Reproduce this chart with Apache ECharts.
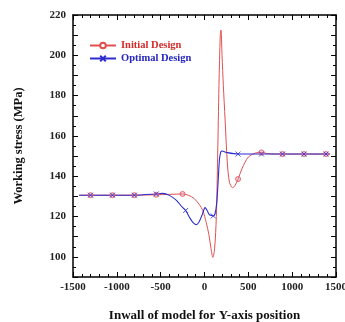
<!DOCTYPE html>
<html>
<head>
<meta charset="utf-8">
<script src="https://cdn.jsdelivr.net/npm/echarts@6.0.0/dist/echarts.min.js"></script>
<style>
  html, body { margin: 0; padding: 0; background: #fff; }
  #chart { width: 345px; height: 322px; }
</style>
</head>
<body>
<div id="chart"></div>
<script>
// values
const initialX = [-1430, -1300, -1050, -800, -550, -400, -250, -180, -120, -60, -20, 20, 50, 75, 95, 115, 135, 150, 165, 180, 188, 200, 215, 235, 260, 285, 320, 350, 383, 430, 500, 580, 650, 720, 800, 890, 1135, 1386, 1430];
const initialY = [130.6, 130.6, 130.6, 130.6, 130.8, 131, 131.2, 130.5, 129, 126, 123, 117, 111, 104, 99.7, 104, 120, 150, 185, 210, 212.5, 200, 185, 168, 147, 137, 134.3, 135.5, 138.6, 144, 149.5, 151.5, 151.8, 151.2, 151, 151, 151, 151, 151];
const optimalX = [-1430, -1300, -1050, -800, -550, -480, -400, -320, -250, -215, -170, -130, -90, -60, -30, -10, 6, 30, 55, 80, 100, 120, 140, 155, 170, 185, 200, 250, 383, 500, 650, 890, 1135, 1386, 1430];
const optimalY = [130.6, 130.6, 130.6, 130.6, 131.2, 131.5, 130.5, 128, 124.5, 123, 119.5, 117, 116, 117.5, 120.5, 123, 124.4, 123, 121, 120.5, 120.3, 121.5, 127, 137, 148, 152, 152.5, 151.8, 151, 151, 151, 151, 151, 151, 151];

// marker positions
const initialMarkX = [-1300, -1050, -800, -550, -250, 383, 650, 890, 1135, 1386];
const initialMarkY = [130.6, 130.6, 130.6, 130.8, 131.2, 138.6, 151.8, 151, 151, 151];
const optimalMarkX = [-1300, -1050, -800, -550, -215, 100, 383, 650, 890, 1135, 1386];
const optimalMarkY = [130.6, 130.6, 130.6, 131.2, 123, 120.3, 151, 151, 151, 151, 151];

const pairs = (xs, ys) => xs.map((x, i) => [x, ys[i]]);

const red = '#e05050';
const blue = '#2c2cd0';
const font = '"Liberation Serif", "Times New Roman", serif';
const crossPath = 'path://M0,0L10,10M10,0L0,10';

const chart = echarts.init(document.getElementById('chart'));

// shared bits for the box axes
const lineStyle = { color: '#000', width: 1.5 };
const tick = { inside: true, length: 5, lineStyle: { color: '#000', width: 1 } };
const minor = { show: true, length: 3, lineStyle: { color: '#000', width: 1 } };
const labelFont = { color: '#222', fontFamily: font, fontWeight: 'bold', fontSize: 11 };

const option = {
  animation: false,
  // fixed plot box, v6 would otherwise shrink it to fit the labels
  grid: { left: 73, right: 9, top: 15, bottom: 45, outerBoundsMode: 'none', containLabel: false },
  legend: {
    orient: 'vertical',
    left: 84,
    top: 35,
    itemWidth: 26,
    itemHeight: 7,
    itemGap: 2,
    textStyle: { fontFamily: font, fontWeight: 'bold', fontSize: 10.5 },
    data: [
      { name: 'Initial Design', textStyle: { color: '#d42a2a' } },
      { name: 'Optimal Design', textStyle: { color: '#2424c0' } },
    ],
  },
  xAxis: [
    {
      type: 'value', min: -1500, max: 1500, interval: 500, position: 'bottom',
      axisLine: { onZero: false, lineStyle },
      axisTick: tick,
      minorTick: { ...minor, splitNumber: 5 },
      splitLine: { show: false },
      axisLabel: { ...labelFont, margin: 5, formatter: v => String(v) },
      name: 'Inwall of model for Y-axis position',
      nameLocation: 'middle',
      nameGap: 32,
      nameTextStyle: { color: '#111', fontFamily: font, fontWeight: 'bold', fontSize: 13 },
    },
    {
      type: 'value', min: -1500, max: 1500, interval: 500, position: 'top',
      axisLine: { onZero: false, lineStyle },
      axisTick: tick,
      minorTick: { ...minor, splitNumber: 5 },
      splitLine: { show: false },
      axisLabel: { show: false },
    },
  ],
  yAxis: [
    {
      type: 'value', min: 90, max: 220, interval: 10, position: 'left',
      axisLine: { onZero: false, lineStyle },
      axisTick: tick,
      minorTick: { ...minor, splitNumber: 2 },
      splitLine: { show: false },
      axisLabel: {
        ...labelFont, margin: 7,
        formatter: v => (v % 20 === 0 ? String(v) : ''),
      },
      name: 'Working stress (MPa)',
      nameLocation: 'middle',
      nameGap: 48,
      nameTextStyle: { color: '#111', fontFamily: font, fontWeight: 'bold', fontSize: 12.5 },
    },
    {
      type: 'value', min: 90, max: 220, interval: 10, position: 'right',
      axisLine: { onZero: false, lineStyle },
      axisTick: tick,
      minorTick: { ...minor, splitNumber: 2 },
      splitLine: { show: false },
      axisLabel: { show: false },
    },
  ],
  series: [
    {
      name: 'Initial Design',
      type: 'line',
      data: pairs(initialX, initialY),
      smooth: 0.3,
      showSymbol: false,
      symbol: 'emptyCircle',
      symbolSize: 5,
      itemStyle: { color: red },
      lineStyle: { color: red, width: 1 },
    },
    {
      name: 'Optimal Design',
      type: 'line',
      data: pairs(optimalX, optimalY),
      smooth: 0.3,
      showSymbol: false,
      symbol: crossPath,
      symbolSize: 5,
      itemStyle: { color: 'none', borderColor: blue, borderWidth: 1 },
      lineStyle: { color: blue, width: 1.1 },
    },
    {
      name: 'initial markers',
      type: 'scatter',
      data: pairs(initialMarkX, initialMarkY),
      symbol: 'circle',
      symbolSize: 5,
      itemStyle: { color: 'rgba(230,150,190,0.6)', borderColor: red, borderWidth: 1 },
      z: 3,
    },
    {
      name: 'optimal markers',
      type: 'scatter',
      data: pairs(optimalMarkX, optimalMarkY),
      symbol: crossPath,
      symbolSize: 5,
      itemStyle: { color: 'none', borderColor: blue, borderWidth: 1 },
      z: 4,
    },
  ],
};

chart.setOption(option);
</script>
</body>
</html>
